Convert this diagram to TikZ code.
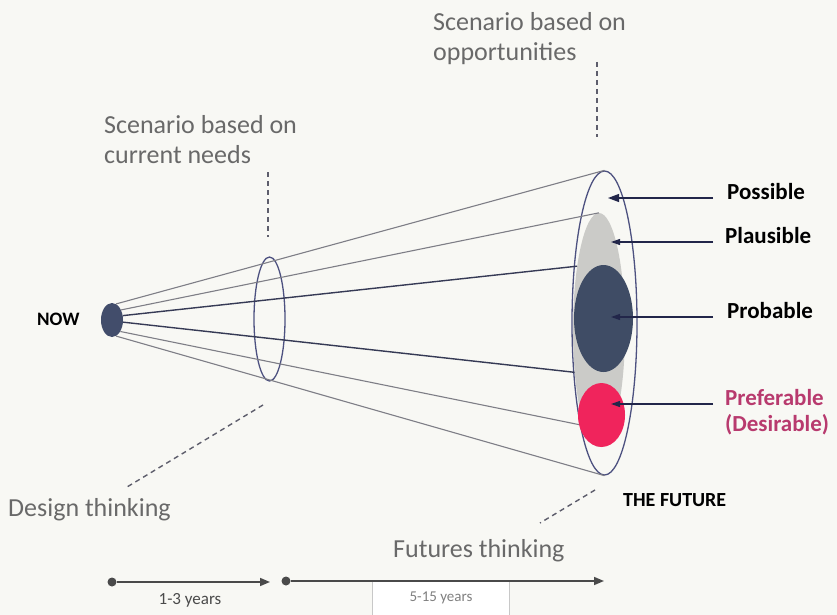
\documentclass[tikz,border=0pt]{standalone}
\usepackage{fontspec}
\setmainfont{Carlito}
\usepackage{xcolor}
\usepackage{tikz}
\usetikzlibrary{arrows.meta, shapes.geometric}
\definecolor{paper}{HTML}{F8F8F4}
\definecolor{slate}{HTML}{424D6B}
\definecolor{ringblue}{HTML}{4D5180}
\definecolor{conegray}{HTML}{7E7E86}
\definecolor{coredark}{HTML}{363A55}
\definecolor{leadnavy}{HTML}{22264A}
\definecolor{hazegray}{HTML}{CBCBC8}
\definecolor{deepblue}{HTML}{3F4C65}
\definecolor{hotpink}{HTML}{F0245C}
\definecolor{plum}{HTML}{B83A6E}
\definecolor{notegray}{HTML}{696969}
\definecolor{dashgray}{HTML}{5E5E6C}
\definecolor{axisgray}{HTML}{4A4A4A}
\definecolor{boxgray}{HTML}{C8C8C8}
\tikzset{
  blob/.style={ellipse, inner sep=0pt},
  ring/.style={ellipse, draw=ringblue, line width=1.3pt, inner sep=0pt},
  cone/.style={draw=conegray, line width=1.1pt},
  core/.style={draw=coredark, line width=1.4pt},
  lead/.style={draw=leadnavy, line width=1.2pt, -{Triangle[length=11pt,width=8pt]}},
  note/.style={font=\fontsize{26}{30}\selectfont, text=notegray, align=left, inner sep=0pt},
  tag/.style={font=\bfseries\fontsize{23}{27}\selectfont, anchor=base west, inner sep=0pt},
  guide/.style={draw=dashgray, line width=1.4pt, dash pattern=on 5pt off 4pt},
  tick/.style={circle, fill=axisgray, inner sep=0pt, minimum size=9pt},
  span/.style={draw=axisgray, line width=1.6pt, -{Triangle[length=10pt,width=8pt]}}
}

\begin{document}
\begin{tikzpicture}[x=1pt, y=-1pt, >=Stealth]
    \fill[paper] (0,0) rectangle (837,615);
    \useasboundingbox (0,0) rectangle (837,615);

    \node[blob, fill=slate, minimum width=22, minimum height=34] (now) at (112,320) {};
    \node[ring, minimum width=31, minimum height=124] (needsring) at (269.5,319) {};
    \node[ring, minimum width=65, minimum height=304] (possring) at (604.5,323) {};
    \node[blob, fill=hazegray, minimum width=52, minimum height=234] (plaus) at (599,330) {};
    \node[blob, fill=deepblue, minimum width=59, minimum height=107] (prob) at (603.5,318.5) {};
    \node[blob, fill=hotpink, minimum width=47, minimum height=64] (pref) at (601.5,415) {};

    \draw[cone] (now.76) -- (possring.north);
    \draw[cone] (now.48) -- (plaus.north);
    \draw[core] (now.22) -- (plaus.109);
    \draw[core] (now.-11) -- (plaus.240);
    \draw[cone] (now.-54) -- (pref.203);
    \draw[cone] (now.-76) -- (possring.south);

    \node[tag, font=\bfseries\fontsize{19}{22}\selectfont] (nowlabel) at (37,325) {NOW};
    \node[tag, font=\bfseries\fontsize{20}{24}\selectfont] (future) at (623,506) {THE FUTURE};

    \node[tag] (possible) at (727,199) {Possible};
    \node[tag] (plausible) at (725,243) {Plausible};
    \node[tag] (probable) at (727,318) {Probable};
    \node[tag, text=plum] (preferable) at (725,405) {Preferable};
    \node[tag, text=plum] (desirable) at (725,431) {(Desirable)};

    \coordinate (posstip) at (608,198);
    \coordinate (plaustip) at (611,242);
    \coordinate (probtip) at (611,317);
    \coordinate (preftip) at (611,404);
    \draw[lead] ([shift={(-14pt,1pt)}]possible.base west) -- (posstip);
    \draw[lead, -{Triangle[length=9pt,width=6pt]}] ([shift={(-12pt,1pt)}]plausible.base west) -- (plaustip);
    \draw[lead, -{Triangle[length=9pt,width=6pt]}] ([shift={(-14pt,1pt)}]probable.base west) -- (probtip);
    \draw[lead, -{Triangle[length=9pt,width=6pt]}] ([shift={(-12pt,1pt)}]preferable.base west) -- (preftip);

    \node[note, anchor=north west] (opps) at (433,12) {Scenario based on\\opportunities};
    \node[note, anchor=north west] (needs) at (104,115) {Scenario based on\\current needs};
    \node[note, anchor=base west] (design) at (8,516) {Design thinking};
    \node[note, anchor=base west] (futures) at (393,557) {Futures thinking};

    \coordinate (oppsA) at (597,62);
    \coordinate (oppsB) at (597,137);
    \coordinate (needsA) at (268,172);
    \coordinate (needsB) at (268,237);
    \coordinate (designA) at (263,405);
    \coordinate (designB) at (127,487);
    \coordinate (futA) at (595,490);
    \coordinate (futB) at (540,523);
    \draw[guide] (oppsA) -- (oppsB);
    \draw[guide] (needsA) -- (needsB);
    \draw[guide] (designA) -- (designB);
    \draw[guide] (futA) -- (futB);

    \node[draw=boxgray, fill=white, line width=0.8pt, minimum width=137, minimum height=34,
          inner sep=0pt, text=gray, font=\fontsize{15}{17}\selectfont] (late) at (441,598) {5-15 years};
    \node[tick] (t0) at (112,582) {};
    \node[tick] (t1) at (286,581) {};
    \coordinate (t0end) at (270,582);
    \coordinate (t1end) at (604,581);
    \draw[span] (t0) -- (t0end);
    \draw[span] (t1) -- (t1end);
    \node[anchor=base, inner sep=0pt, text=axisgray, font=\fontsize{17}{20}\selectfont] (early) at (190,604) {1-3 years};
\end{tikzpicture}
\end{document}
